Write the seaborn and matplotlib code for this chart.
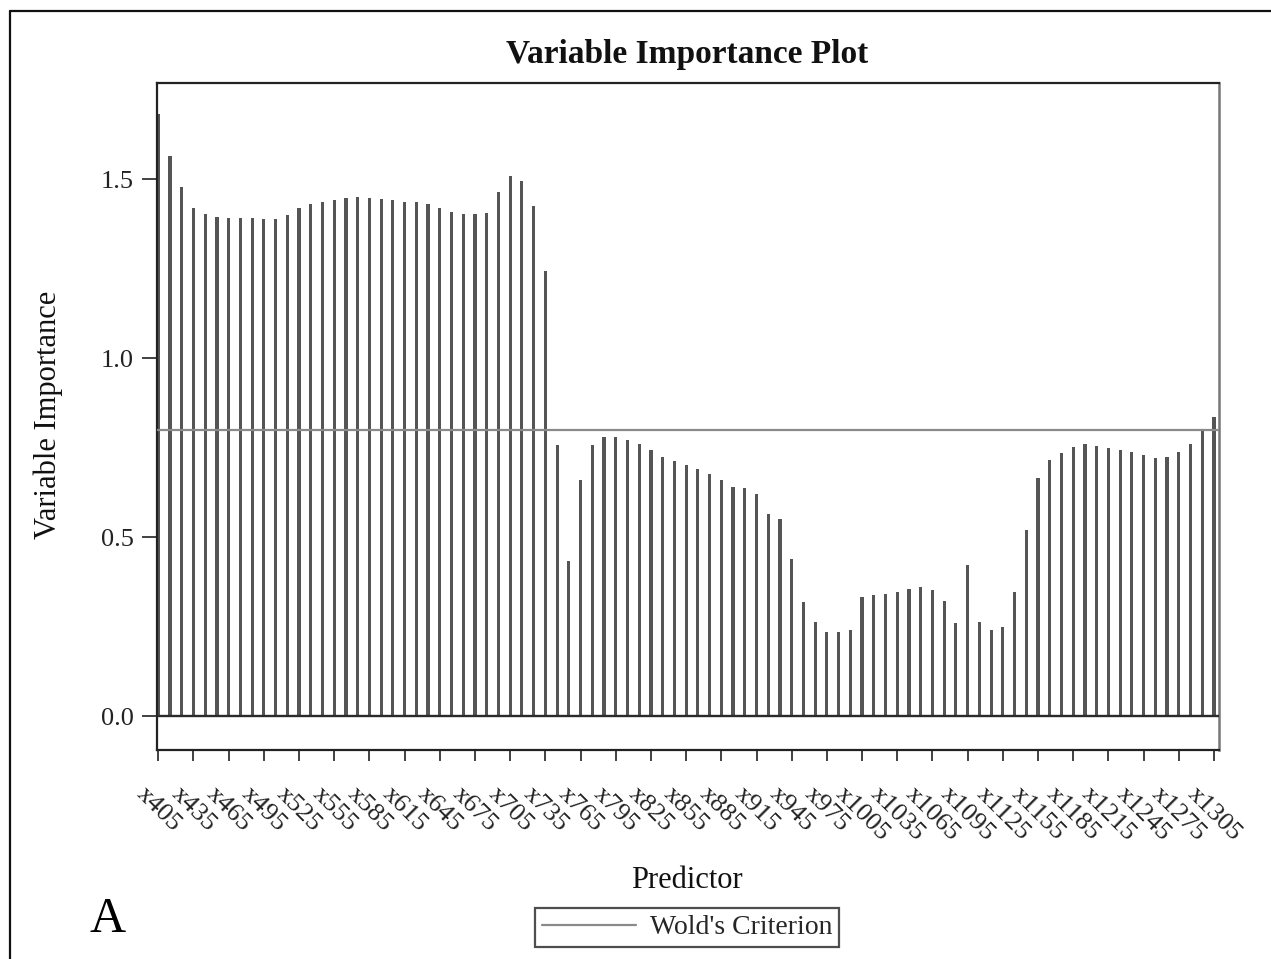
import matplotlib
matplotlib.use("Agg")
import matplotlib.pyplot as plt
from matplotlib.lines import Line2D
import seaborn as sns
import pandas as pd
import numpy as np

# ---- data ----
predictor_nums = list(range(405, 1306, 10))
importance = [
    1.682, 1.566, 1.479, 1.421, 1.404, 1.396, 1.393, 1.391, 1.391, 1.388,
    1.388, 1.399, 1.421, 1.430, 1.436, 1.442, 1.448, 1.450, 1.448, 1.444,
    1.442, 1.438, 1.436, 1.432, 1.419, 1.409, 1.404, 1.402, 1.405, 1.465,
    1.508, 1.495, 1.426, 1.245,
    0.758, 0.434, 0.661, 0.758, 0.780, 0.780, 0.772, 0.762, 0.744, 0.724,
    0.714, 0.702, 0.691, 0.678, 0.661, 0.641, 0.637, 0.621, 0.564, 0.550,
    0.439, 0.319, 0.264, 0.236, 0.236, 0.241, 0.333, 0.339, 0.341, 0.347,
    0.355, 0.360, 0.352, 0.322, 0.261, 0.422, 0.264, 0.241,
    0.250, 0.347, 0.521, 0.665, 0.715, 0.736, 0.752, 0.760, 0.754, 0.749,
    0.743, 0.737, 0.730, 0.721, 0.724, 0.737, 0.762, 0.797, 0.835,
]
wold_criterion = 0.8
tick_nums = list(range(405, 1306, 30))
tick_labels = [f"x{n}" for n in tick_nums]
y_ticks = [0.0, 0.5, 1.0, 1.5]
title = "Variable Importance Plot"
xlabel = "Predictor"
ylabel = "Variable Importance"
legend_label = "Wold's Criterion"
panel_label = "A"

df = pd.DataFrame({"num": predictor_nums, "vip": importance})

sns.set_theme(style="white")
plt.rcParams["font.family"] = ["Liberation Serif", "DejaVu Serif"]

W, H = 1271, 959
fig = plt.figure(figsize=(W / 100, H / 100), dpi=100)
L, R, T, B = 157, 1219, 83, 750
ax = fig.add_axes([L / W, 1 - B / H, (R - L) / W, (B - T) / H])

sns.barplot(data=df, x="num", y="vip", native_scale=True, width=0.27,
            color="#555555", saturation=1, linewidth=0, ax=ax, errorbar=None)

ax.axhline(0.0, color="#2a2a2a", lw=1.7, zorder=3)
ax.axhline(wold_criterion, color="#8a8a8a", lw=1.6, zorder=3)

ax.set_xlim(403.9, 1309.3)
ax.set_ylim(-0.094, 1.769)
ax.set_xticks(tick_nums)
ax.set_xticklabels(tick_labels, rotation=-45, ha="center", va="top",
                   fontsize=19, color="#222222")
ax.set_yticks(y_ticks)
ax.set_yticklabels([f"{v:.1f}" for v in y_ticks], fontsize=19, color="#222222")
ax.tick_params(axis="x", direction="out", length=8, width=1.3, color="#333333", pad=16,
               bottom=True)
ax.tick_params(axis="y", direction="out", length=10.5, width=1.3, color="#333333", pad=6,
               left=True)
ax.set_xlabel("")
ax.set_ylabel("")

for side in ["left", "bottom", "top"]:
    ax.spines[side].set_color("#222222")
    ax.spines[side].set_linewidth(1.6)
ax.spines["right"].set_color("#777777")
ax.spines["right"].set_linewidth(1.8)

fig.text(687 / W, 1 - 54 / H, title, ha="center", va="center",
         fontsize=24, fontweight="bold", color="#111111")
fig.text(687 / W, 1 - 881 / H, xlabel, ha="center", va="center",
         fontsize=22, color="#111111")
fig.text(48 / W, 1 - 415 / H, ylabel, ha="center", va="center", rotation=90,
         fontsize=22, color="#111111")
fig.text(108 / W, 1 - 932 / H, panel_label, ha="center", va="baseline",
         fontsize=36, color="#000000")

handle = Line2D([], [], color="#8a8a8a", lw=1.6)
leg = fig.legend([handle], [legend_label], loc="center",
                 bbox_to_anchor=(687 / W, 1 - 927.5 / H), fontsize=20,
                 frameon=True, fancybox=False, borderpad=0.25, handlelength=3.4,
                 handletextpad=0.5, borderaxespad=0)
leg.get_frame().set_edgecolor("#222222")
leg.get_frame().set_linewidth(1.6)

# outer frame (left and top edges)
fig.add_artist(Line2D([10 / W, 10 / W], [1 - 11 / H, 0], transform=fig.transFigure,
                      color="#111111", lw=1.6))
fig.add_artist(Line2D([10 / W, 1], [1 - 11 / H, 1 - 11 / H], transform=fig.transFigure,
                      color="#111111", lw=1.6))

fig.savefig("out.png", dpi=100)
